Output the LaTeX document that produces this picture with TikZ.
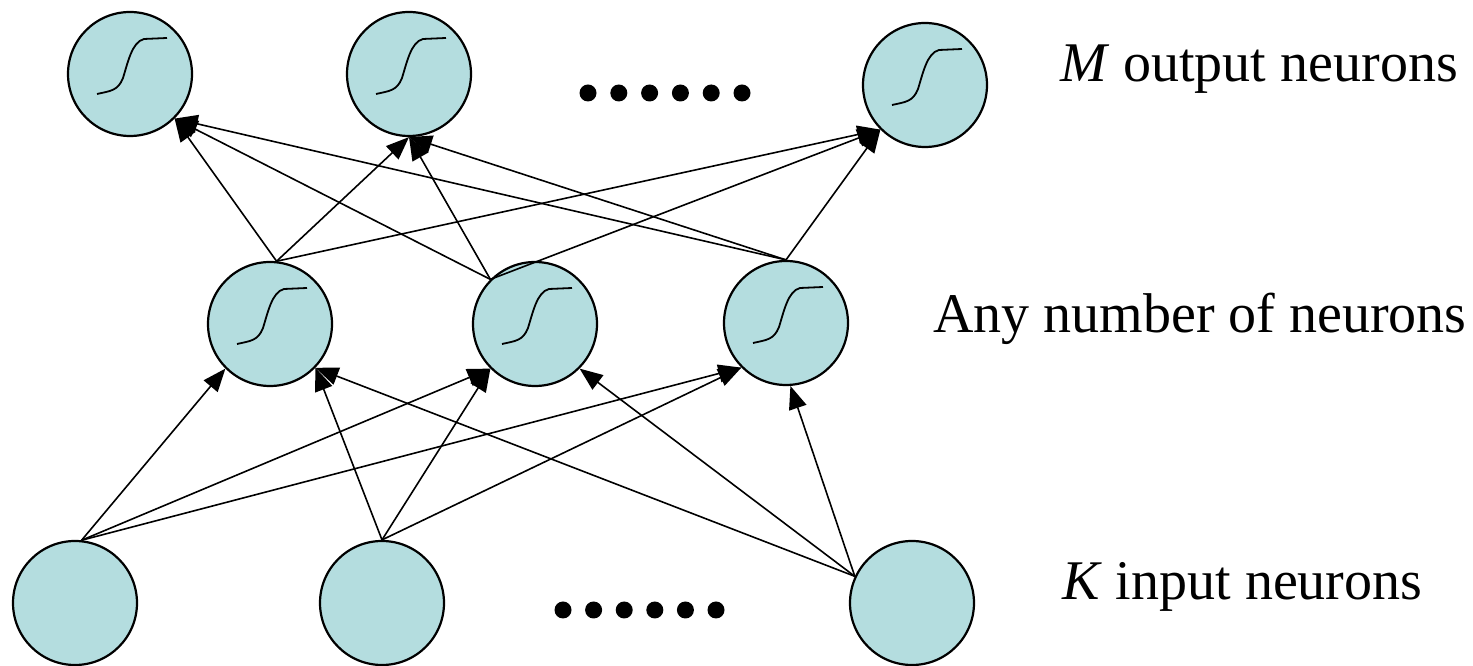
\documentclass[tikz,border=0pt]{standalone}
\usepackage{fontspec}
\setmainfont{Liberation Serif}
\usetikzlibrary{arrows.meta}
\definecolor{cellfill}{RGB}{180,221,223}
\tikzset{
  neuron/.style={circle, draw=black, line width=2.2pt, fill=cellfill,
                 minimum size=124pt, inner sep=0pt},
  conn/.style={line width=1.6pt, -{Triangle[length=23pt,width=18pt]}},
  dotmark/.style={circle, fill=black, inner sep=0pt, minimum size=17pt},
  caption/.style={anchor=base west, inner sep=0pt,
                  font=\fontsize{56}{60}\selectfont},
  sigmoid/.pic={
    \draw[line width=1.8pt] (-33,-20) .. controls (-20,-17) and (-12,-17) .. (-7,-4)
       .. controls (-2,12) and (2,32) .. (14,35) -- (37,36);
  }
}
\begin{document}
\begin{tikzpicture}[x=1pt,y=1pt]
\useasboundingbox (0,0) rectangle (1473,666);

% output layer
\node[neuron] (o1) at (130,592) {};
\node[neuron] (o2) at (409,592) {};
\node[neuron] (o3) at (925,581) {};
% hidden layer
\node[neuron] (h1) at (270,342) {};
\node[neuron] (h2) at (535,342) {};
\node[neuron] (h3) at (786,343) {};
% input layer
\node[neuron] (i1) at (75,63) {};
\node[neuron] (i2) at (382,63) {};
\node[neuron] (i3) at (912,63) {};

% activation curves
\foreach \n in {o1,o2,o3,h1,h2,h3}
  \pic at (\n) {sigmoid};

% ellipsis dots
\foreach \k [count=\j] in {0,...,5} {
  \node[dotmark] (td\j) at (588+30.8*\k,573) {};
  \node[dotmark] (bd\j) at (563+30.6*\k,56) {};
}

% input -> hidden
\draw[conn] (i1.84) -- (h1.225);
\draw[conn] (i1.84) -- (h2.225);
\draw[conn] (i1.84) -- (h3.225);
\draw[conn] (i2.90) -- (h1.316);
\draw[conn] (i2.90) -- (h2.225);
\draw[conn] (i2.90) -- (h3.225);
\draw[conn] (i3.155) -- (h1.316);
\draw[conn] (i3.155) -- (h2.315);
\draw[conn] (i3.155) -- (h3.274);

% hidden -> output
\draw[conn] (h1.84) -- (o1.315);
\draw[conn] (h1.84) -- (o2.270);
\draw[conn] (h1.84) -- (o3.225);
\draw[conn] (h2.135) -- (o1.315);
\draw[conn] (h2.135) -- (o2.270);
\draw[conn] (h2.135) -- (o3.225);
\draw[conn] (h3.90) -- (o1.315);
\draw[conn] (h3.90) -- (o2.270);
\draw[conn] (h3.90) -- (o3.225);

% layer captions
\node[caption] (lo) at (1060,584) {\textit{M} output neurons};
\node[caption] (lh) at (933,333) {Any number of neurons};
\node[caption] (li) at (1062,66) {\textit{K} input neurons};
\end{tikzpicture}
\end{document}
